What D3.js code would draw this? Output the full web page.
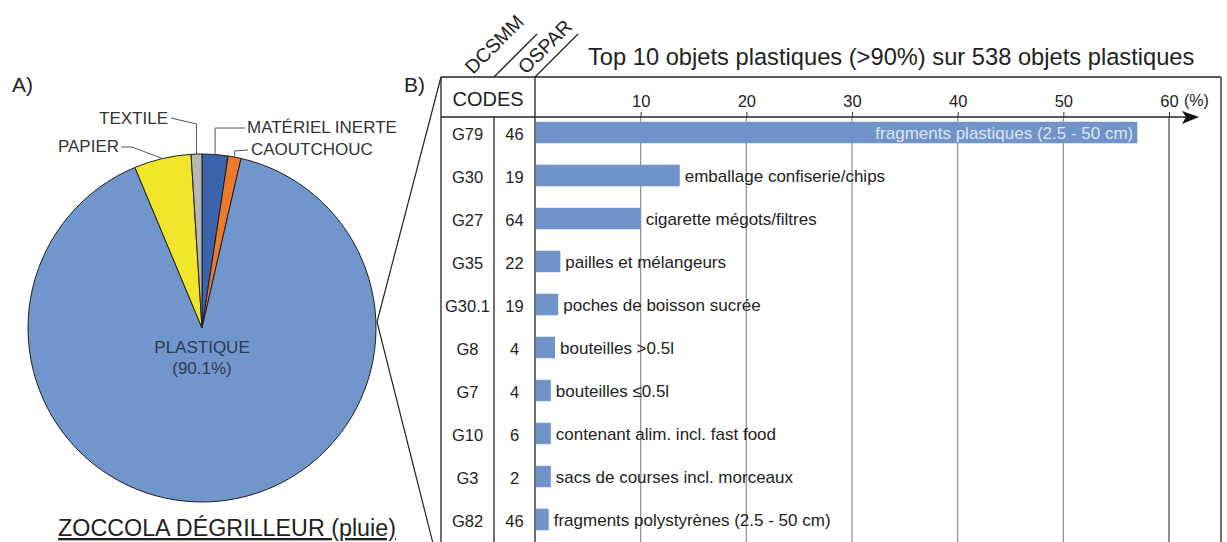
<!DOCTYPE html>
<html>
<head>
<meta charset="utf-8">
<script src="https://cdn.jsdelivr.net/npm/d3@7"></script>
<style>
   body { margin: 0; background: #fff; }
   svg { display: block; font-family: 'Liberation Sans', Arial, sans-serif; }
</style>
</head>
<body>
<svg id="chart" width="1227" height="542"></svg>
<script>

// PIE DATA (CLOCKWISE FROM TOP)
var pieLabels = ['MATÉRIEL INERTE', 'CAOUTCHOUC', 'PLASTIQUE', 'PAPIER', 'TEXTILE'];
var pieValues = [2.4, 1.2, 90.1, 5.3, 1.0];

// TOP 10 TABLE DATA
var dcsmmCodes = ['G79', 'G30', 'G27', 'G35', 'G30.1', 'G8', 'G7', 'G10', 'G3', 'G82'];
var osparCodes = ['46', '19', '64', '22', '19', '4', '4', '6', '2', '46'];
var itemLabels = [
   'fragments plastiques (2.5 - 50 cm)',
   'emballage confiserie/chips',
   'cigarette mégots/filtres',
   'pailles et mélangeurs',
   'poches de boisson sucrée',
   'bouteilles >0.5l',
   'bouteilles ≤0.5l',
   'contenant alim. incl. fast food',
   'sacs de courses incl. morceaux',
   'fragments polystyrènes (2.5 - 50 cm)'
];
var itemValues = [57.0, 13.7, 10.0, 2.4, 2.2, 1.9, 1.5, 1.5, 1.5, 1.3];
var axisTicks = [10, 20, 30, 40, 50, 60];

// SETTINGS
var settings = {
   text: '#222',
   bar: '#7094c9',
   pie: {
      cx: 202, cy: 328, r: 174,
      colors: ['#3b64ad', '#ec7a2c', '#7196cb', '#f1e62a', '#b7b7b7']
   },
   table: { left: 441, mid: 494, zero: 535, right: 1221, top: 77, axis: 117, bottom: 542 }
};

var svg = d3.select('#chart');
var T = settings.table;

// PANEL LETTERS
svg.append('text').attr('x', 12).attr('y', 92).attr('font-size', 21).attr('fill', settings.text).text('A)');
svg.append('text').attr('x', 404).attr('y', 92).attr('font-size', 21).attr('fill', settings.text).text('B)');

// ================= PIE =================
var P = settings.pie;
var pie = d3.pie().sort(null).value(d => d)(pieValues);
var arc = d3.arc().innerRadius(0).outerRadius(P.r);

var pg = svg.append('g').attr('transform', 'translate(' + P.cx + ',' + P.cy + ')');

pg.selectAll('path')
   .data(pie)
   .enter().append('path')
      .attr('d', arc)
      .attr('fill', (d, i) => P.colors[i])
      .attr('stroke', '#1e1e1e')
      .attr('stroke-width', 1)
      .attr('stroke-linejoin', 'round');

// ANCHOR POINT ON RIM AT SLICE MID ANGLE
function rim(d) {
   var a = (d.startAngle + d.endAngle) / 2;
   return [Math.sin(a) * P.r, -Math.cos(a) * P.r];
}

// LEADER LINES + LABELS (RELATIVE TO PIE CENTRE)
var callouts = [
   { i: 0, pts: p => [p, [p[0], -200], [43, -200]], tx: 45, ty: -195, anchor: 'start' },
   { i: 1, pts: p => [p, [p[0], -177], [46, -178]], tx: 49, ty: -173, anchor: 'start' },
   { i: 3, pts: p => [p, [-70, -181], [-81, -181]], tx: -83, ty: -176, anchor: 'end' },
   { i: 4, pts: p => [p, [p[0], -204], [-31, -210]], tx: -34, ty: -204, anchor: 'end' }
];

callouts.forEach(c => {
   var p = rim(pie[c.i]);
   pg.append('path')
      .attr('d', d3.line()(c.pts(p)))
      .attr('fill', 'none')
      .attr('stroke', '#555')
      .attr('stroke-width', 1);
   pg.append('text')
      .attr('x', c.tx).attr('y', c.ty)
      .attr('text-anchor', c.anchor)
      .attr('font-size', 17)
      .attr('fill', '#333')
      .text(pieLabels[c.i]);
});

// PLASTIQUE LABEL
pg.append('text').attr('x', 0).attr('y', 25).attr('text-anchor', 'middle')
   .attr('font-size', 17).attr('fill', '#2c3b57').text(pieLabels[2]);
pg.append('text').attr('x', 0).attr('y', 46).attr('text-anchor', 'middle')
   .attr('font-size', 17).attr('fill', '#2c3b57').text('(' + pieValues[2].toFixed(1) + '%)');

// PIE TITLE
svg.append('text')
   .attr('x', 227).attr('y', 536)
   .attr('text-anchor', 'middle')
   .attr('font-size', 23.3)
   .attr('fill', settings.text)
   .attr('text-decoration', 'underline')
   .text('ZOCCOLA DÉGRILLEUR (pluie)');

// CONNECTORS FROM PIE TO TABLE
var tip = [P.cx + P.r + 1, P.cy - 6];
svg.append('path')
   .attr('d', d3.line()([[T.left, T.top], tip, [T.left, 575]]))
   .attr('fill', 'none')
   .attr('stroke', '#222')
   .attr('stroke-width', 1.2);

// ================= BAR TABLE =================

// X-SCALING
var xScale = d3.scaleLinear().domain([0, 60]).range([T.zero, 1169]);

// Y-SCALING
var yScale = d3.scaleBand()
   .domain(dcsmmCodes)
   .range([111, 541])
   .paddingInner(0.5)
   .paddingOuter(0.25);

// GRIDLINES
svg.selectAll('.grid')
   .data(axisTicks)
   .enter().append('line')
      .attr('x1', d => xScale(d)).attr('x2', d => xScale(d))
      .attr('y1', T.axis).attr('y2', T.bottom)
      .attr('stroke', d => d === 60 ? '#555' : '#959595')
      .attr('stroke-width', 1.3);

// BARS
svg.selectAll('.bar')
   .data(itemValues)
   .enter().append('rect')
      .attr('x', xScale(0) + 1)
      .attr('y', (d, i) => yScale(dcsmmCodes[i]))
      .attr('width', d => xScale(d) - xScale(0) - 1)
      .attr('height', yScale.bandwidth())
      .attr('fill', settings.bar);

// BAR LABELS (FIRST ONE INSIDE THE BAR)
svg.selectAll('.lbl')
   .data(itemValues)
   .enter().append('text')
      .attr('x', (d, i) => i === 0 ? xScale(d) - 4 : xScale(d) + 5)
      .attr('y', (d, i) => yScale(dcsmmCodes[i]) + yScale.bandwidth() / 2 + 6)
      .attr('text-anchor', (d, i) => i === 0 ? 'end' : 'start')
      .attr('font-size', 17)
      .attr('fill', (d, i) => i === 0 ? '#dfe7f4' : settings.text)
      .text((d, i) => itemLabels[i]);

// CODE COLUMNS
[[dcsmmCodes, (T.left + T.mid) / 2], [osparCodes, (T.mid + T.zero) / 2]].forEach(col => {
   svg.selectAll(null)
      .data(col[0])
      .enter().append('text')
         .attr('x', col[1])
         .attr('y', (d, i) => yScale(dcsmmCodes[i]) + yScale.bandwidth() / 2 + 7)
         .attr('text-anchor', 'middle')
         .attr('font-size', 16.5)
         .attr('fill', settings.text)
         .text(d => d);
});

// FRAME LINES
var frame = [
   [[T.left, T.top], [T.right, T.top]],
   [[T.left, T.top], [T.left, T.bottom]],
   [[T.mid, T.axis], [T.mid, T.bottom]],
   [[T.zero, T.top], [T.zero, T.bottom]],
   [[T.right, T.top], [T.right, T.bottom]],
   [[T.mid, T.top], [T.mid + 43, T.top - 43]],
   [[T.zero, T.top], [T.zero + 43, T.top - 43]]
];
svg.selectAll('.frame')
   .data(frame)
   .enter().append('path')
      .attr('d', d => d3.line()(d))
      .attr('stroke', '#222')
      .attr('stroke-width', 1.3)
      .attr('fill', 'none');

// X-AXIS WITH ARROW
svg.append('line')
   .attr('x1', T.left).attr('x2', 1190)
   .attr('y1', T.axis).attr('y2', T.axis)
   .attr('stroke', '#222').attr('stroke-width', 1.5);
svg.append('path')
   .attr('d', 'M1182,111 L1199,117 L1182,124 L1186,117 Z')
   .attr('fill', '#111');

var xAxis = d3.axisTop(xScale).tickValues(axisTicks).tickSize(5).tickPadding(5);
var ax = svg.append('g')
   .attr('transform', 'translate(0,' + T.axis + ')')
   .call(xAxis);
ax.select('.domain').remove();
ax.selectAll('line').attr('stroke', '#333');
ax.selectAll('text')
   .attr('font-size', 16.5)
   .attr('font-family', "'Liberation Sans', Arial, sans-serif")
   .attr('fill', settings.text);

svg.append('text').attr('x', 1184).attr('y', 106).attr('font-size', 16)
   .attr('fill', settings.text).text('(%)');

// HEADER TEXTS
svg.append('text').attr('x', (T.left + T.zero) / 2).attr('y', 106)
   .attr('text-anchor', 'middle').attr('font-size', 20).attr('fill', settings.text).text('CODES');

svg.append('text')
   .attr('transform', 'translate(473,75) rotate(-45)')
   .attr('font-size', 19.5).attr('fill', settings.text).text('DCSMM');
svg.append('text')
   .attr('transform', 'translate(526,75) rotate(-45)')
   .attr('font-size', 19.5).attr('fill', settings.text).text('OSPAR');

// CHART TITLE
svg.append('text').attr('x', 588).attr('y', 65)
   .attr('font-size', 23.7).attr('fill', settings.text)
   .text('Top 10 objets plastiques (>90%) sur 538 objets plastiques');

</script>
</body>
</html>
